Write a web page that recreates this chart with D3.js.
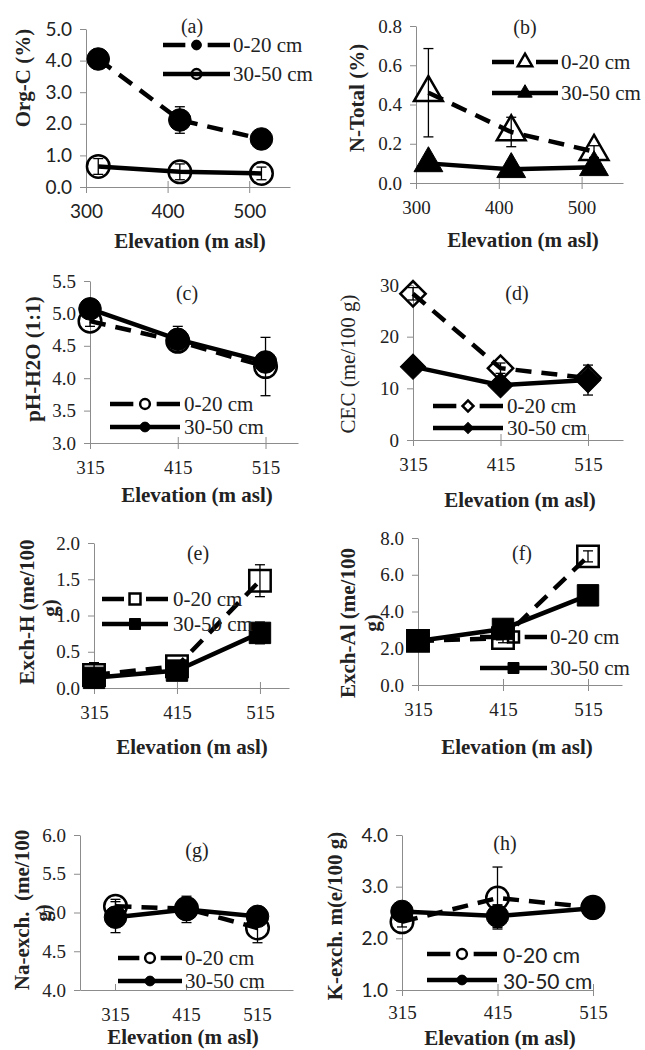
<!DOCTYPE html>
<html>
<head>
<meta charset="utf-8">
<script src="https://cdn.jsdelivr.net/npm/d3@7"></script>
<style>
body { margin: 0; background: #fff; }
svg { display: block; }
</style>
</head>
<body>
<div id="content"></div>
<script>
// ---- data ----
const elevation = [315, 415, 515]
const seriesNames = ["0-20 cm", "30-50 cm"]

// (a) Org-C (%)
const orgC_0_20 = [4.05, 2.12, 1.52]
const orgC_0_20_err = [0.08, 0.42, 0.08]
const orgC_30_50 = [0.65, 0.48, 0.43]
const orgC_30_50_err = [0.25, 0.25, 0.2]
// (b) N-Total (%)
const nTot_0_20 = [0.46, 0.26, 0.16]
const nTot_0_20_err = [0.225, 0.075, 0.03]
const nTot_30_50 = [0.10, 0.07, 0.08]
const nTot_30_50_err = [0.02, 0.02, 0.02]
// (c) pH-H2O (1:1)
const ph_0_20 = [4.88, 4.57, 4.18]
const ph_0_20_err = [0.08, 0.1, 0.45]
const ph_30_50 = [5.07, 4.6, 4.25]
const ph_30_50_err = [0.08, 0.2, 0.1]
// (d) CEC (me/100 g)
const cec_0_20 = [28.3, 13.9, 12.0]
const cec_0_20_err = [1.2, 1.0, 1.0]
const cec_30_50 = [14.2, 10.6, 11.6]
const cec_30_50_err = [1.0, 1.2, 2.9]
// (e) Exch-H
const exH_0_20 = [0.18, 0.3, 1.48]
const exH_0_20_err = [0.17, 0.05, 0.22]
const exH_30_50 = [0.14, 0.24, 0.76]
const exH_30_50_err = [0.05, 0.05, 0.15]
// (f) Exch-Al
const exAl_0_20 = [2.4, 2.55, 7.0]
const exAl_0_20_err = [0.1, 0.25, 0.3]
const exAl_30_50 = [2.4, 3.05, 4.88]
const exAl_30_50_err = [0.1, 0.1, 0.1]
// (g) Na-exch.
const na_0_20 = [5.08, 5.05, 4.8]
const na_0_20_err = [0.09, 0.05, 0.19]
const na_30_50 = [4.94, 5.04, 4.95]
const na_30_50_err = [0.2, 0.17, 0.05]
// (h) K-exch.
const k_0_20 = [2.32, 2.78, 2.6]
const k_0_20_err = [0.1, 0.6, 0.1]
const k_30_50 = [2.52, 2.43, 2.58]
const k_30_50_err = [0.1, 0.22, 0.17]

const xTicks300 = [300, 400, 500]

const SERIF = "Liberation Serif, Times New Roman, serif"
const SANS = "Lato, Liberation Sans, sans-serif"

// ---- panel layout ----
const panels = [
  {id: "(a)", ax: 86, top: 29, bottom: 187, right: 290, xDomain: [300, 550], xTicks: xTicks300,
   yDomain: [0, 5], yStep: 1, fmt: ".1f", tickFont: SANS, yTickFont: SANS, legendFont: SERIF,
   shapes: ["circle", "circle"], open: [false, true],
   s1: orgC_0_20, e1: orgC_0_20_err, s2: orgC_30_50, e2: orgC_30_50_err,
   title: [192, 26], leg: {x: 163, len: 67, y1: 45, y2: 74, tx: 233},
   yLabel: ["Org-C (%)"], yBold: true, yLab: [[23, 78]], xLab: [190, 241]},
  {id: "(b)", ax: 416, top: 26, bottom: 183, right: 623, xDomain: [300, 550], xTicks: xTicks300,
   yDomain: [0, 0.8], yStep: 0.2, fmt: ".1f", tickFont: SERIF, yTickFont: SERIF, legendFont: SERIF,
   shapes: ["triangle", "triangle"], open: [true, false],
   s1: nTot_0_20, e1: nTot_0_20_err, s2: nTot_30_50, e2: nTot_30_50_err,
   title: [525, 27], leg: {x: 492, len: 66, y1: 62, y2: 93, tx: 561},
   yLabel: ["N-Total (%)"], yBold: true, yLab: [[357, 98]], xLab: [523, 240]},
  {id: "(c)", ax: 90, top: 281, bottom: 443, right: 298, xDomain: [315, 552], xTicks: elevation,
   yDomain: [3, 5.5], yStep: 0.5, fmt: ".1f", tickFont: SERIF, yTickFont: SERIF, legendFont: SERIF,
   shapes: ["circle", "circle"], open: [true, false],
   s1: ph_0_20, e1: ph_0_20_err, s2: ph_30_50, e2: ph_30_50_err,
   title: [187, 293], leg: {x: 110, len: 70, y1: 404, y2: 427, tx: 184},
   yLabel: ["pH-H2O (1:1)"], yBold: true, yLab: [[33, 359]], xLab: [197, 495]},
  {id: "(d)", ax: 413, top: 285, bottom: 440, right: 623, xDomain: [315, 555], xTicks: elevation,
   yDomain: [0, 30], yStep: 10, fmt: "d", tickFont: SERIF, yTickFont: SERIF, legendFont: SERIF,
   shapes: ["diamond", "diamond"], open: [true, false],
   s1: cec_0_20, e1: cec_0_20_err, s2: cec_30_50, e2: cec_30_50_err,
   title: [517, 293], leg: {x: 433, len: 70, y1: 406, y2: 428, tx: 507},
   yLabel: ["CEC (me/100 g)"], yBold: false, yLab: [[348, 364]], xLab: [520, 500]},
  {id: "(e)", ax: 94, top: 543, bottom: 688, right: 289, xDomain: [315, 550], xTicks: elevation,
   yDomain: [0, 2], yStep: 0.5, fmt: ".1f", tickFont: SERIF, yTickFont: SERIF, legendFont: SERIF,
   shapes: ["square", "square"], open: [true, false],
   s1: exH_0_20, e1: exH_0_20_err, s2: exH_30_50, e2: exH_30_50_err,
   title: [198, 553], leg: {x: 102, len: 66, y1: 599, y2: 624, tx: 173},
   yLabel: ["Exch-H (me/100", "g)"], yBold: true, yLab: [[27, 612], [50, 608]], xLab: [192, 747]},
  {id: "(f)", ax: 418, top: 538, bottom: 685, right: 622, xDomain: [315, 555], xTicks: elevation,
   yDomain: [0, 8], yStep: 2, fmt: ".1f", tickFont: SERIF, yTickFont: SERIF, legendFont: SERIF,
   shapes: ["square", "square"], open: [true, false],
   s1: exAl_0_20, e1: exAl_0_20_err, s2: exAl_30_50, e2: exAl_30_50_err,
   title: [522, 553], leg: {x: 480, len: 67, y1: 637, y2: 668, tx: 550},
   yLabel: ["Exch-Al (me/100", "g)"], yBold: true, yLab: [[348, 623], [372, 623]], xLab: [517, 747]},
  {id: "(g)", ax: 80, top: 835, bottom: 990, right: 293, band: true, xTicks: elevation,
   yDomain: [4, 6], yStep: 0.5, fmt: ".1f", tickFont: SERIF, yTickFont: SERIF, legendFont: SERIF,
   shapes: ["circle", "circle"], open: [true, false],
   s1: na_0_20, e1: na_0_20_err, s2: na_30_50, e2: na_30_50_err,
   title: [197, 850], leg: {x: 118, len: 64, y1: 958, y2: 981, tx: 185},
   yLabel: ["Na-exch.  (me/100", "g)"], yBold: true, yLab: [[22, 910], [43, 913]], xLab: [183, 1037]},
  {id: "(h)", ax: 402, top: 835, bottom: 990, right: 593, xDomain: [315, 515], xTicks: elevation,
   yDomain: [1, 4], yStep: 1, fmt: ".1f", tickFont: SERIF, yTickFont: SANS, legendFont: SANS,
   xPad: 10,
   shapes: ["circle", "circle"], open: [true, false],
   s1: k_0_20, e1: k_0_20_err, s2: k_30_50, e2: k_30_50_err,
   title: [505, 843], leg: {x: 427, len: 70, y1: 954, y2: 980, tx: 503},
   yLabel: ["K-exch. m(e/100 g)"], yBold: true, yLab: [[335, 916]], xLab: [500, 1038]},
]

const svg = d3.select("#content").append("svg")
    .attr("width", 645)
    .attr("height", 1050)

const AXIS = "#8c8c8c"
const bigSize = {circle: 400, triangle: 360, diamond: 320, square: 460}
const smallSize = {circle: 75, triangle: 90, diamond: 60, square: 120}

function symbolPath(shape, size) {
  const type = {circle: d3.symbolCircle, triangle: d3.symbolTriangle,
                diamond: d3.symbolSquare, square: d3.symbolSquare}[shape]
  return d3.symbol().type(type).size(size)()
}

function drawMarker(g, shape, open, x, y, size) {
  g.append("path")
      .attr("d", symbolPath(shape, size))
      .attr("transform", `translate(${x},${y})` + (shape === "diamond" ? " rotate(45)" : ""))
      .attr("fill", open ? "none" : "#000")
      .attr("stroke", "#000")
      .attr("stroke-width", open ? 2.5 : 1)
}

function drawPanel(p) {
  const g = svg.append("g")

  let xScale, xPos
  if (p.band) {
    xScale = d3.scaleBand().domain(elevation).range([p.ax, p.right])
    xPos = v => xScale(v) + xScale.bandwidth() / 2
  } else {
    xScale = d3.scaleLinear().domain(p.xDomain).range([p.ax, p.right])
    xPos = v => xScale(v)
  }
  const yScale = d3.scaleLinear().domain(p.yDomain).range([p.bottom, p.top])
  const yTicks = d3.range(p.yDomain[0], p.yDomain[1] + p.yStep / 2, p.yStep)

  // y axis
  const yAxis = d3.axisLeft(yScale).tickValues(yTicks).tickFormat(d3.format(p.fmt))
      .tickSizeInner(6).tickSizeOuter(0).tickPadding(8)
  const ya = g.append("g").attr("transform", `translate(${p.ax},0)`).call(yAxis)
      .attr("font-family", p.yTickFont).attr("font-size", 19)
  ya.select(".domain").attr("stroke", AXIS)
  ya.selectAll(".tick line").attr("stroke", AXIS)
  ya.selectAll(".tick text").attr("fill", "#222")

  // x axis
  const xAxis = (p.band ? d3.axisBottom(xScale) : d3.axisBottom(xScale).tickValues(p.xTicks))
      .tickSizeInner(p.band ? 0 : 6).tickSizeOuter(0)
      .tickPadding(p.band ? 18 : (p.xPad || 12))
  const xa = g.append("g").attr("transform", `translate(0,${p.bottom})`).call(xAxis)
      .attr("font-family", p.tickFont).attr("font-size", 19)
  xa.select(".domain").attr("stroke", AXIS)
  xa.selectAll(".tick line").attr("stroke", AXIS).attr("y1", -6)
  xa.selectAll(".tick text").attr("fill", "#222")

  // series
  const series = [
    {vals: p.s1, errs: p.e1, dash: "16,10"},
    {vals: p.s2, errs: p.e2, dash: null},
  ]
  const line = d3.line().x((d, i) => xPos(elevation[i])).y(d => yScale(d))

  series.forEach((s, k) => {
    g.append("path")
        .datum(s.vals)
        .attr("d", line)
        .attr("fill", "none")
        .attr("stroke", "#000")
        .attr("stroke-width", 4.5)
        .attr("stroke-dasharray", s.dash)

    s.vals.forEach((v, i) => {
      const x = xPos(elevation[i])
      const e = s.errs[i]
      const y0 = yScale(v - e), y1 = yScale(v + e)
      g.append("line").attr("x1", x).attr("x2", x).attr("y1", y0).attr("y2", y1)
          .attr("stroke", "#000").attr("stroke-width", 1.3)
      ;[y0, y1].forEach(yy => g.append("line")
          .attr("x1", x - 5).attr("x2", x + 5).attr("y1", yy).attr("y2", yy)
          .attr("stroke", "#000").attr("stroke-width", 1.3))
    })

    s.vals.forEach((v, i) => {
      drawMarker(g, p.shapes[k], p.open[k], xPos(elevation[i]), yScale(v), bigSize[p.shapes[k]])
    })
  })

  // legend
  const L = p.leg
  ;[L.y1, L.y2].forEach((ly, k) => {
    g.append("line")
        .attr("x1", L.x).attr("x2", L.x + L.len).attr("y1", ly).attr("y2", ly)
        .attr("stroke", "#000").attr("stroke-width", 4.5)
        .attr("stroke-dasharray", k === 0 ? `${L.len / 3},${L.len / 3}` : null)
    drawMarker(g, p.shapes[k], p.open[k], L.x + L.len / 2, ly, smallSize[p.shapes[k]])
    g.append("text")
        .attr("x", L.tx).attr("y", ly)
        .attr("dominant-baseline", "central")
        .attr("font-family", p.legendFont).attr("font-size", 21)
        .attr("fill", "#222")
        .text(seriesNames[k])
  })

  // panel title
  g.append("text")
      .attr("x", p.title[0]).attr("y", p.title[1])
      .attr("text-anchor", "middle").attr("dominant-baseline", "central")
      .attr("font-family", SERIF).attr("font-size", 20).attr("fill", "#222")
      .text(p.id)

  // y label
  p.yLabel.forEach((t, i) => {
    const [cx, cy] = p.yLab[i]
    g.append("text")
        .attr("transform", `translate(${cx},${cy}) rotate(-90)`)
        .attr("text-anchor", "middle").attr("dominant-baseline", "central")
        .attr("font-family", SERIF).attr("font-size", 21)
        .attr("font-weight", p.yBold ? "bold" : "normal")
        .style("white-space", "pre")
        .attr("fill", "#222")
        .text(t)
  })

  // x label
  g.append("text")
      .attr("x", p.xLab[0]).attr("y", p.xLab[1])
      .attr("text-anchor", "middle").attr("dominant-baseline", "central")
      .attr("font-family", SERIF).attr("font-size", 21).attr("font-weight", "bold")
      .attr("fill", "#222")
      .text("Elevation (m asl)")
}

panels.forEach(drawPanel)
</script>
</body>
</html>
